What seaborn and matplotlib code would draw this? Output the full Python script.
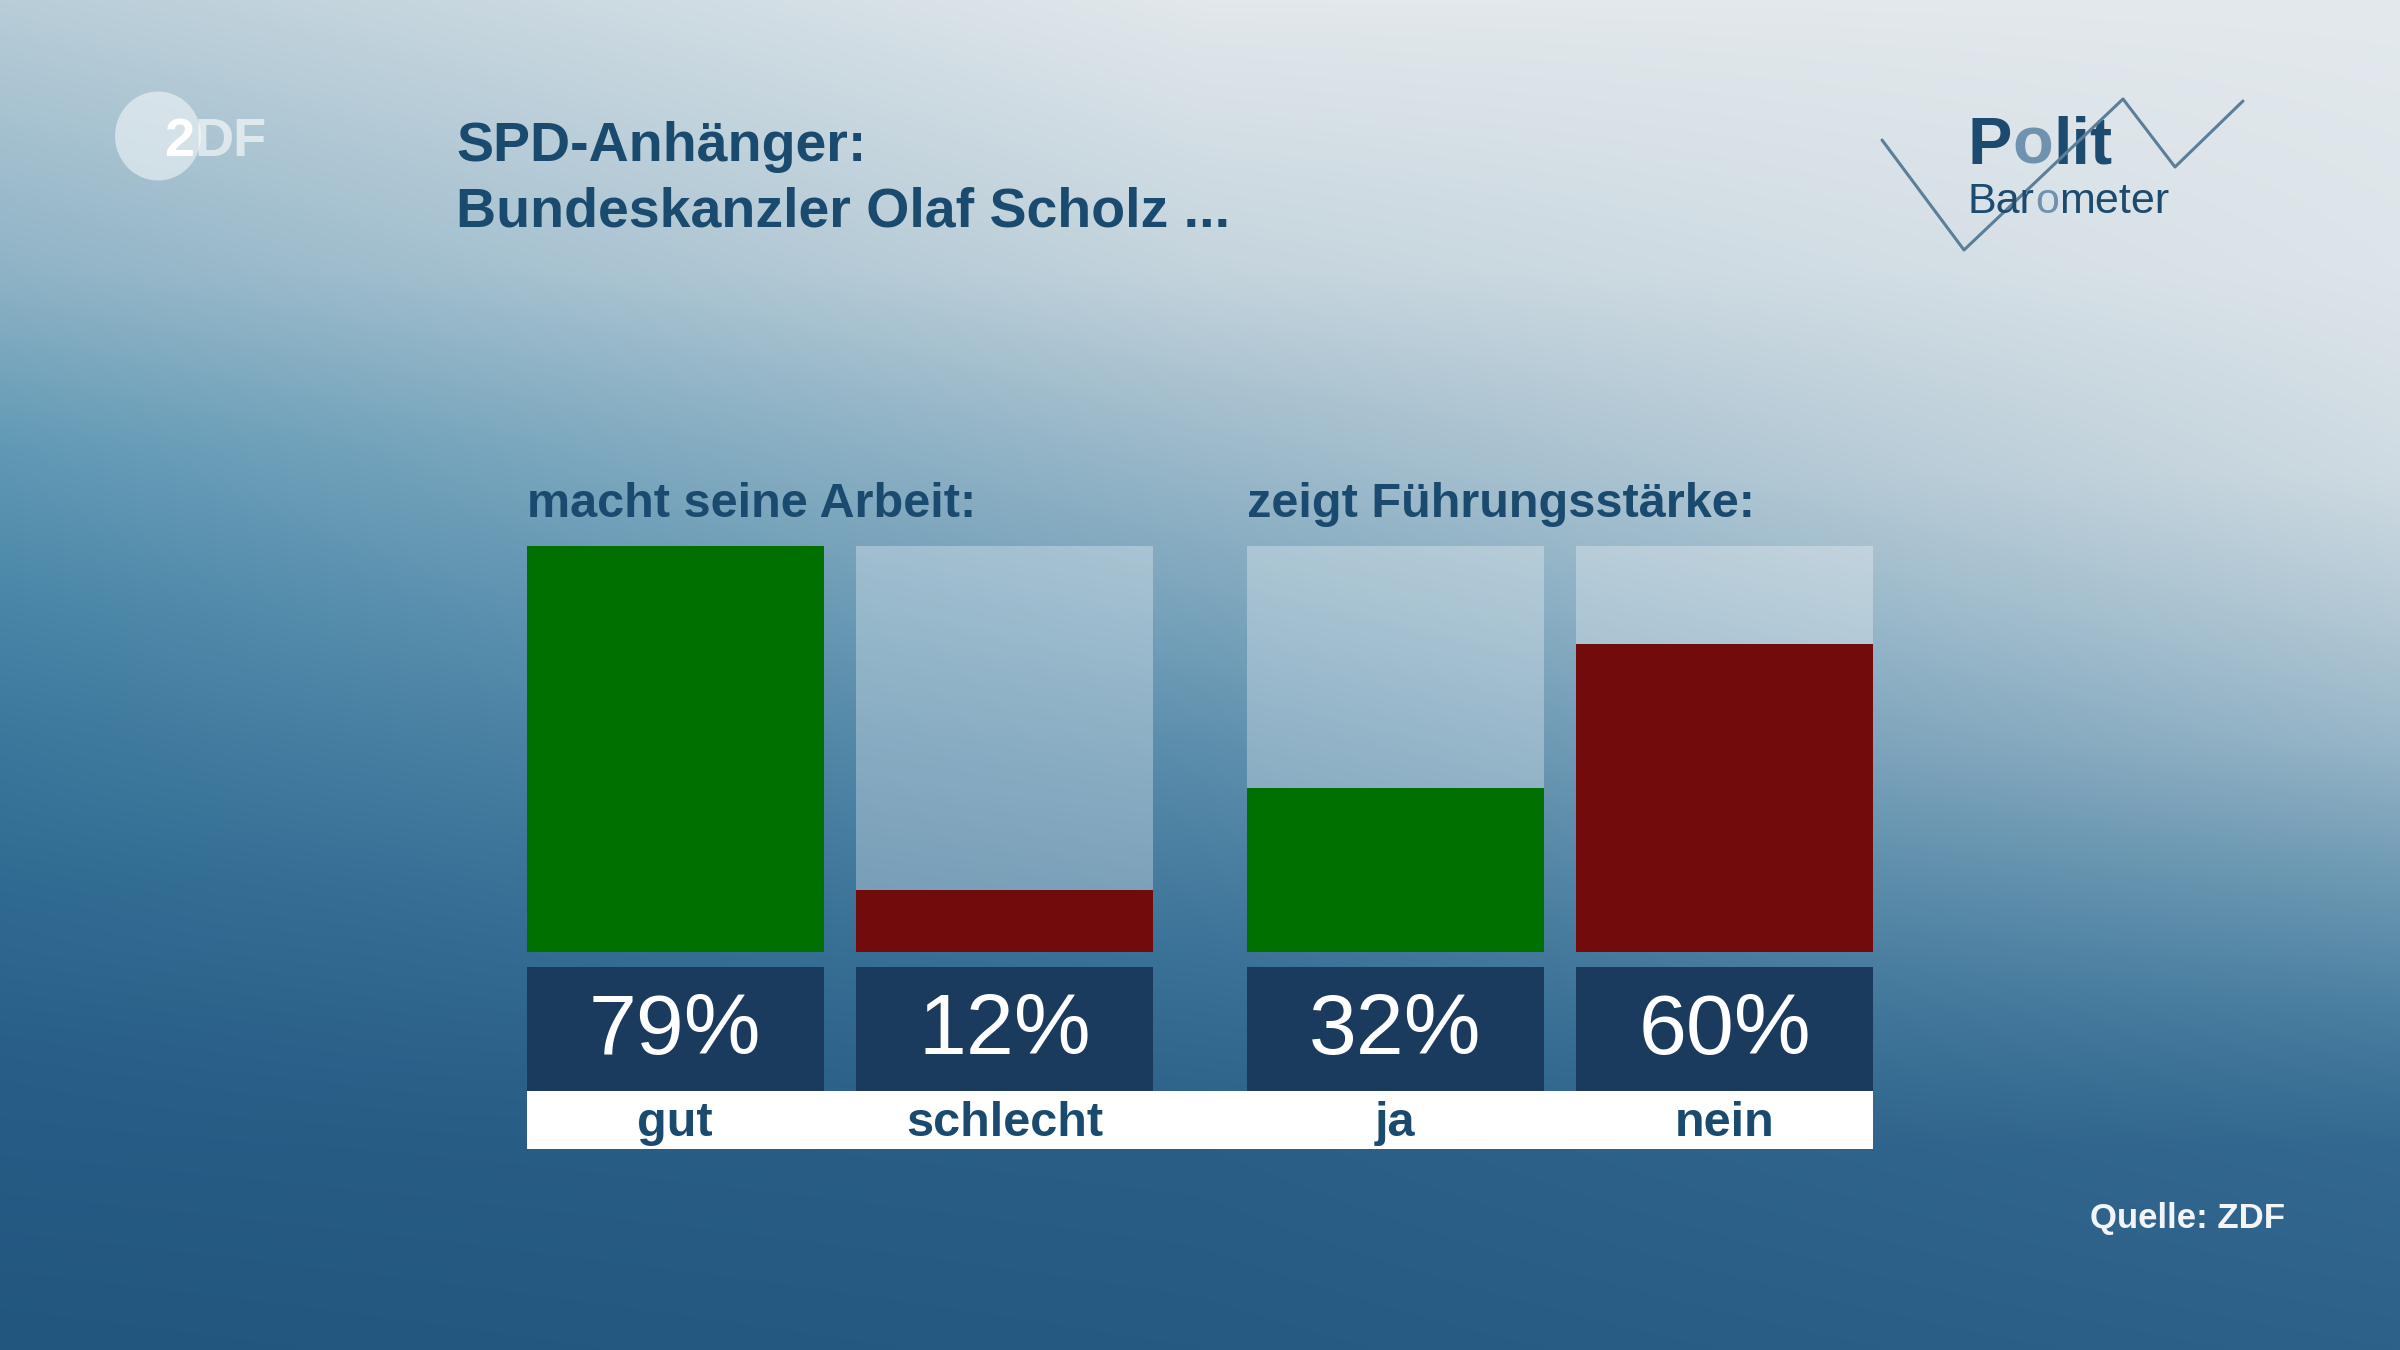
import numpy as np
import pandas as pd
import seaborn as sns
import matplotlib.pyplot as plt
import matplotlib.transforms as mtransforms
from matplotlib.colors import to_rgb
from matplotlib.patches import Rectangle, Ellipse
from matplotlib.lines import Line2D

# data
title_lines = ["SPD-Anhänger:", "Bundeskanzler Olaf Scholz ..."]
group_titles = ["macht seine Arbeit:", "zeigt Führungsstärke:"]
work_labels = ["gut", "schlecht"]
work_values = [79, 12]
lead_labels = ["ja", "nein"]
lead_values = [32, 60]
source = "Quelle: ZDF"

GREEN = "#007000"
RED = "#720c0c"
NAVY = "#1b3b5e"
TEXT = "#1a4a6e"

sns.set_theme(style="white")
plt.rcParams['font.family'] = ['Liberation Sans', 'DejaVu Sans']

fig = plt.figure(figsize=(24, 13.5), dpi=100)

# --- background gradient (left / middle / right columns, top to bottom) ---
def column(stops, n=270):
    ys = [p for p, _ in stops]
    cols = np.array([to_rgb(c) for _, c in stops])
    grid = np.linspace(0, 1, n)
    return np.stack([np.interp(grid, ys, cols[:, k]) for k in range(3)], axis=1)

left_col = column([(0, "#b8cdd8"), (0.2, "#8fb3c6"), (0.33, "#6199b5"),
                   (0.45, "#4885a7"), (0.55, "#3b779c"), (0.65, "#306b93"),
                   (0.8, "#275d87"), (1.0, "#22567f")])
mid_col = column([(0, "#e2e8ec"), (0.2, "#c4d4dd"), (0.3, "#a5bfce"),
                  (0.45, "#7aa4bc"), (0.55, "#5d8fad"), (0.7, "#3c7398"),
                  (0.85, "#2a5e86"), (1.0, "#265a83")])
right_col = column([(0, "#e3e9ed"), (0.2, "#dde5ea"), (0.35, "#cfdbe2"),
                    (0.45, "#b5cad6"), (0.55, "#98b6c8"), (0.65, "#6e9ab4"),
                    (0.75, "#4a7fa1"), (0.85, "#336890"), (1.0, "#2d6189")])
xs = np.linspace(0, 1, 480)[None, :, None]
w_left = np.clip(1 - 2 * xs, 0, 1)
w_right = np.clip(2 * xs - 1, 0, 1)
w_mid = 1 - w_left - w_right
img = (w_left * left_col[:, None, :] + w_mid * mid_col[:, None, :]
       + w_right * right_col[:, None, :])

bg = fig.add_axes([0, 0, 1, 1], zorder=-10)
bg.imshow(img, extent=[0, 1, 0, 1], origin='upper', aspect='auto',
          interpolation='bilinear')
bg.axis('off')

# --- title ---
fig.text(0.19, 0.8807, title_lines[0], fontsize=40, fontweight='bold', color=TEXT)
fig.text(0.19, 0.832, title_lines[1], fontsize=40, fontweight='bold', color=TEXT)

# --- bars ---
ymax = max(work_values + lead_values)
panels = [(0.2196, group_titles[0], work_labels, work_values),
          (0.5196, group_titles[1], lead_labels, lead_values)]

for left, gtitle, labels, values in panels:
    ax = fig.add_axes([left, 0.2948, 0.2608, 0.3007])
    df = pd.DataFrame({"label": labels, "value": values})
    df["full"] = ymax
    sns.barplot(data=df, x="label", y="full", color="white", alpha=0.3,
                width=0.9, saturation=1, linewidth=0, ax=ax)
    sns.barplot(data=df, x="label", y="value", hue="label",
                palette=[GREEN, RED], width=0.9, saturation=1,
                linewidth=0, legend=False, ax=ax)
    ax.set_xlim(-0.45, 1.45)
    ax.set_ylim(0, ymax)
    ax.axis('off')

    ax.text(0, 1.071, gtitle, transform=ax.transAxes, fontsize=35,
            fontweight='bold', color=TEXT, va='baseline', ha='left')

    trans = mtransforms.blended_transform_factory(ax.transData, ax.transAxes)
    back = ax.patches[:len(labels)]
    for p, lab, val in zip(back, labels, values):
        ax.add_patch(Rectangle((p.get_x(), -0.3424), p.get_width(), 0.3055,
                               transform=trans, color=NAVY, clip_on=False,
                               lw=0))
        cx = p.get_x() + p.get_width() / 2
        ax.text(cx, -0.198, f"{val}%", transform=trans, fontsize=62,
                color="white", ha='center', va='center')
        ax.text(cx, -0.422, lab, transform=trans, fontsize=35,
                fontweight='bold', color=TEXT, ha='center', va='center',
                zorder=5)

# white label strip
fig.add_artist(Rectangle((527 / 2400, 1 - 1149 / 1350), (1873 - 527) / 2400,
                         (1149 - 1091) / 1350, transform=fig.transFigure,
                         color="white", zorder=-5, lw=0))

# --- source ---
fig.text(0.952, 0.0907, source, fontsize=25, color="#f2f4f8", ha='right',
         va='baseline', fontweight='bold')

# --- ZDF logo ---
fig.add_artist(Ellipse((158 / 2400, 1 - 136 / 1350), 86 / 2400, 89 / 1350,
                       transform=fig.transFigure, color="white", alpha=0.5,
                       lw=0))
t2 = fig.text(164 / 2400, 1 - 156 / 1350, "2", fontsize=39, fontweight='bold',
              color="white", va='baseline')
plt.annotate("DF", xy=(1, 0), xycoords=t2, fontsize=39, fontweight='bold',
             color="white", alpha=0.6, va='bottom', ha='left',
             annotation_clip=False)

# --- Politbarometer logo ---
zx = np.array([1882, 1964, 2123, 2175, 2243]) / 2400
zy = 1 - np.array([140, 250, 99, 167, 101]) / 1350
fig.add_artist(Line2D(zx, zy, transform=fig.transFigure, color="#5b7f99",
                      lw=2.2))
LOGO_D = "#1d4b70"
LOGO_L = "#6f93ae"
p1 = fig.text(1968 / 2400, 1 - 164 / 1350, "P", fontsize=48, fontweight='bold',
              color=LOGO_D, va='baseline')
a1 = plt.annotate("o", xy=(1, 0), xycoords=p1, fontsize=48, fontweight='bold',
                  color=LOGO_L, va='bottom', annotation_clip=False)
plt.annotate("lit", xy=(1, 0), xycoords=a1, fontsize=48, fontweight='bold',
             color=LOGO_D, va='bottom', annotation_clip=False)
b1 = fig.text(1968 / 2400, 1 - 213 / 1350, "Bar", fontsize=31,
              color=LOGO_D, va='baseline')
b2 = plt.annotate("o", xy=(1, 0), xycoords=b1, fontsize=31,
                  color=LOGO_L, va='bottom', annotation_clip=False)
plt.annotate("meter", xy=(1, 0), xycoords=b2, fontsize=31,
             color=LOGO_D, va='bottom', annotation_clip=False)

fig.savefig("out.png", dpi=100)
